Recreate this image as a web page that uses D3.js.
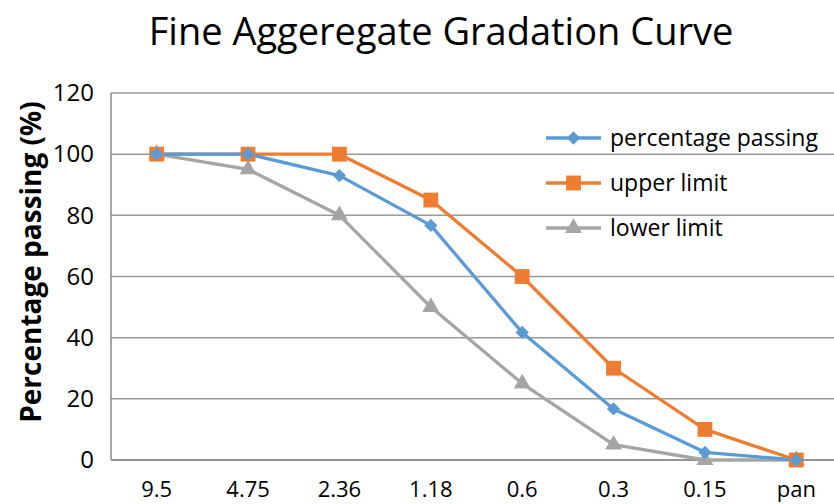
<!DOCTYPE html>
<html><head><meta charset="utf-8">
<script src="https://cdn.jsdelivr.net/npm/d3@7"></script>
<style>body{margin:0;background:#fff;overflow:hidden}svg{display:block}</style>
</head><body>
<svg id="c" width="834" height="504"></svg>
<script>
const categories = ["9.5","4.75","2.36","1.18","0.6","0.3","0.15","pan"];
const percentagePassing = [100,100,93,76.7,41.7,16.7,2.5,0];
const upperLimit = [100,100,100,85,60,30,10,0];
const lowerLimit = [100,95,80,50,25,5,0,0];
const yTicks = [0,20,40,60,80,100,120];
const series = [
  {name:"percentage passing", values:percentagePassing, color:"#5B9BD5", symbol:d3.symbolSquare, size:88, rot:45},
  {name:"upper limit", values:upperLimit, color:"#ED7D31", symbol:d3.symbolSquare, size:220, rot:0},
  {name:"lower limit", values:lowerLimit, color:"#A5A5A5", symbol:d3.symbolTriangle, size:125, rot:0}
];
const svg = d3.select("#c");
const font = "'Open Sans', 'Noto Sans', sans-serif";
const L=111, T=93, B=460, W=731;
const x = d3.scaleBand().domain(categories).range([L, L+W]);
const y = d3.scaleLinear().domain([0,120]).range([B,T]);

svg.append("text").attr("x",441).attr("y",45).attr("text-anchor","middle")
  .style("font-family",font).style("font-size","38px").attr("fill","#000")
  .text("Fine Aggeregate Gradation Curve");

svg.append("g").selectAll("line").data(yTicks).join("line")
  .attr("x1",L).attr("x2",L+W).attr("y1",d=>y(d)).attr("y2",d=>y(d))
  .attr("stroke","#9a9a9a").attr("stroke-width",1.5);
svg.append("line").attr("x1",L).attr("x2",L).attr("y1",T).attr("y2",B).attr("stroke","#8a8a8a").attr("stroke-width",1.5);
svg.append("line").attr("x1",L).attr("x2",L+W).attr("y1",B).attr("y2",B).attr("stroke","#8a8a8a").attr("stroke-width",1.5);

const yAxis = d3.axisLeft(y).tickValues(yTicks).tickSize(0).tickPadding(17);
const gy = svg.append("g").attr("transform",`translate(${L},0)`).call(yAxis);
gy.select(".domain").remove();
gy.selectAll("text").style("font-family",font).style("font-size","24px").attr("fill","#000");

const xAxis = d3.axisBottom(x).tickSize(0);
const gx = svg.append("g").attr("transform",`translate(0,${B})`).call(xAxis);
gx.select(".domain").remove();
gx.selectAll("text").attr("y",37).attr("dy",0)
  .style("font-family",font).style("font-size","22px").attr("fill","#000");

svg.append("text").attr("transform","translate(31,262) rotate(-90)").attr("text-anchor","middle")
  .attr("dy","0.35em")
  .style("font-family",font).style("font-size","28px").style("font-weight","bold").attr("fill","#000")
  .text("Percentage passing (%)");

const line = d3.line().x((d,i)=>x(categories[i])+x.bandwidth()/2).y(d=>y(d));
const order = [series[2], series[1], series[0]];
order.forEach(s=>{
  svg.append("path").datum(s.values).attr("d",line).attr("fill","none")
    .attr("stroke",s.color).attr("stroke-width",3.3).attr("stroke-linejoin","round");
});
order.forEach(s=>{
  svg.append("g").selectAll("path").data(s.values).join("path")
    .attr("transform",(d,i)=>`translate(${x(categories[i])+x.bandwidth()/2},${y(d)}) rotate(${s.rot})`)
    .attr("d",d3.symbol(s.symbol,s.size)).attr("fill",s.color);
});

const lg = svg.append("g");
series.forEach((s,i)=>{
  const yy = 138 + i*45;
  lg.append("line").attr("x1",546).attr("x2",601).attr("y1",yy).attr("y2",yy)
    .attr("stroke",s.color).attr("stroke-width",3.3);
  lg.append("path").attr("transform",`translate(573.5,${yy}) rotate(${s.rot})`).attr("d",d3.symbol(s.symbol,s.size)).attr("fill",s.color);
  lg.append("text").attr("x",610).attr("y",yy).attr("dy","0.35em")
    .style("font-family",font).style("font-size","23px").attr("fill","#000").text(s.name);
});
</script>
</body></html>
